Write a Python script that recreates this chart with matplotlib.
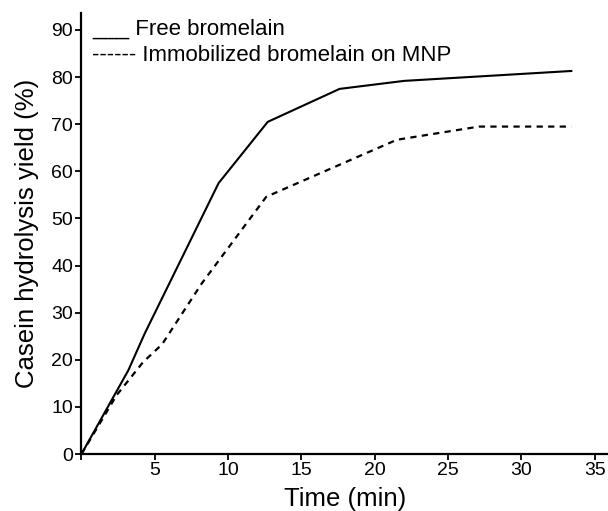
import matplotlib.pyplot as plt

plt.rcParams['font.family'] = ['Liberation Sans', 'DejaVu Sans']

# hydrolysis yield over time
time_free = [0, 3.2, 4.3, 9.35, 12.7, 17.6, 22.0, 33.4]
yield_free = [0, 17.8, 25.5, 57.5, 70.5, 77.5, 79.2, 81.3]

time_imm = [0, 2.4, 4.2, 5.5, 8.2, 12.6, 21.5, 27.1, 33.4]
yield_imm = [0, 12.5, 19.5, 23.3, 36.2, 54.6, 66.7, 69.5, 69.5]

xticks = [0, 5, 10, 15, 20, 25, 30, 35]
xtick_labels = ['', '5', '10', '15', '20', '25', '30', '35']
yticks = [0, 10, 20, 30, 40, 50, 60, 70, 80, 90]

fig = plt.figure(figsize=(6.08, 5.11), dpi=100)
ax = fig.add_axes([0.134, 0.1115, 0.866, 0.863])

ax.plot(time_free, yield_free, color='black', lw=1.5)
ax.plot(time_imm, yield_imm, color='black', lw=1.6, dashes=(2.8, 2.4))

ax.set_xlim(0, 35.9)
ax.set_ylim(0, 93.6)
ax.set_xticks(xticks)
ax.set_xticklabels(xtick_labels)
ax.set_yticks(yticks)

ax.spines['top'].set_visible(False)
ax.spines['right'].set_visible(False)
ax.spines['left'].set_linewidth(1.6)
ax.spines['bottom'].set_linewidth(1.6)
ax.tick_params(axis='both', labelsize=14, width=1.3, length=4, direction='out')
ax.tick_params(axis='y', pad=2)
ax.tick_params(axis='x', pad=2)

ax.set_xlabel('Time (min)', fontsize=18.5)
ax.xaxis.set_label_coords(0.5, -0.074)
ax.set_ylabel('Casein hydrolysis yield (%)', fontsize=18.5)
ax.yaxis.set_label_coords(-0.080, 0.5)

# text legend
fig.text(92 / 608, 1 - 35 / 511, '___ Free bromelain', fontsize=16, va='baseline')
fig.text(92 / 608, 1 - 61 / 511, '------ Immobilized bromelain on MNP', fontsize=16, va='baseline')

fig.savefig('out.png', dpi=100)
